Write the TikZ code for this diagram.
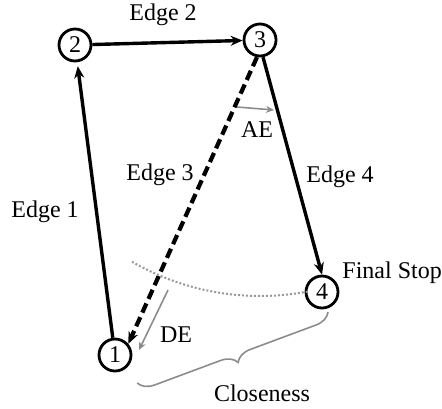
\documentclass[tikz,border=0pt]{standalone}
\usepackage{fontspec}
\setmainfont{Liberation Serif}
\usetikzlibrary{arrows.meta, positioning, decorations.pathreplacing}
\tikzstyle{stopnode} = [circle, draw=black, line width=1.4pt, minimum size=16pt, inner sep=0pt, font=\fontsize{12}{14}\selectfont]
\tikzstyle{arrow} = [line width=1.7pt,->,>={Stealth[length=6pt,width=5pt]}]
\tikzstyle{dasharrow} = [line width=2.1pt,->,>={Stealth[length=6pt,width=5pt]}, dash pattern=on 5pt off 2.5pt]
\tikzstyle{measure} = [line width=0.8pt,->,>={Stealth[length=4pt,width=3.5pt]}, draw=black!45]
\tikzstyle{lbl} = [font=\fontsize{12}{14}\selectfont, inner sep=0pt]

\begin{document}
\begin{tikzpicture}[x=0.5pt, y=-0.5pt]
\useasboundingbox (0,0) rectangle (442,408);

% Nodes
\node (stop1) [stopnode] at (115,355) {1};
\node (stop2) [stopnode] at (75,45) {2};
\node (stop3) [stopnode] at (260,40) {3};
\node (stop4) [stopnode] at (322,292) {4};

% Arrows
\draw [arrow, shorten >=2pt] (stop1) -- (stop2);
\draw [arrow] (stop2) -- (stop3);
\draw [dasharrow] (stop3.-100) -- (stop1.40);
\draw [arrow] (stop3.-80) -- (stop4.north);

% Edge labels
\node [lbl] at (163,15) {Edge 2};
\node [lbl] at (45,212) {Edge 1};
\node [lbl] at (160,175) {Edge 3};
\node [lbl] at (340,177) {Edge 4};
\node [lbl, anchor=west] at (342,273) {Final Stop};

% Distances
\coordinate (ae1) at (237,107);
\coordinate (ae2) at (274,110);
\coordinate (de1) at (168,290);
\coordinate (de2) at (139,350);
\draw [measure] (ae1) -- (ae2);
\draw [measure] (de1) -- (de2);
\node [lbl] at (257,130) {AE};
\node [lbl] at (176,335) {DE};

% Arc round stop 3 and closeness brace
\draw [draw=black!40, line width=1pt, dash pattern=on 1pt off 1pt] ([shift={(120:256)}]stop3.center) arc[start angle=120, end angle=79, radius=256];
\coordinate (br1) at (328,312);
\coordinate (br2) at (137,383);
\draw [draw=black!45, line width=0.8pt, decorate, decoration={brace, amplitude=8pt}] (br1) -- (br2);
\node [lbl] at (262,393) {Closeness};

\end{tikzpicture}
\end{document}
